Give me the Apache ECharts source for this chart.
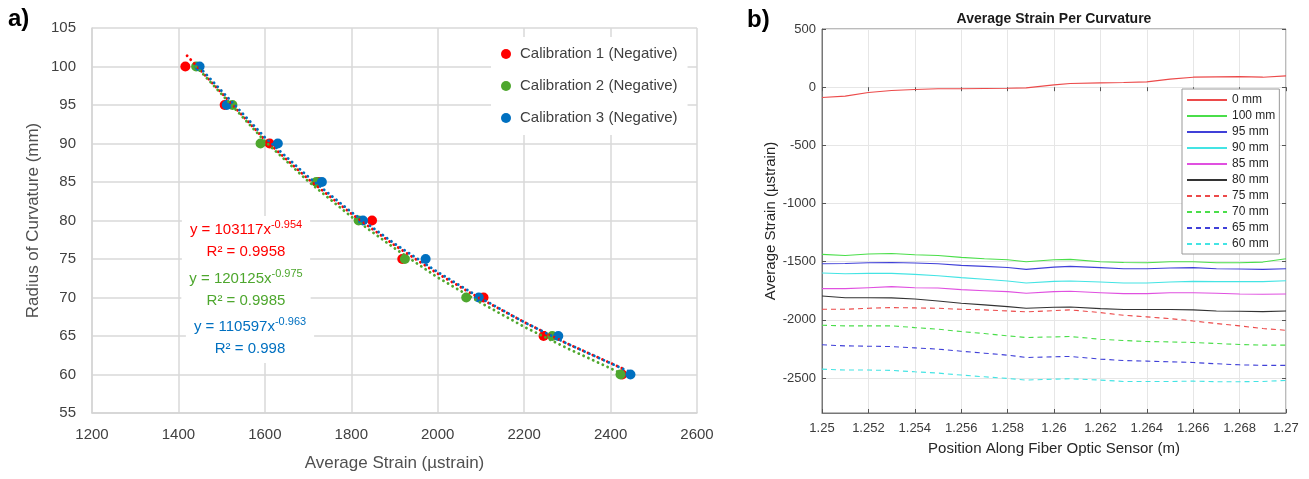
<!DOCTYPE html>
<html>
<head>
<meta charset="utf-8">
<script src="https://cdn.jsdelivr.net/npm/echarts@6/dist/echarts.min.js"></script>
<style>
  html, body { margin: 0; padding: 0; background: #fff; }
  #chart { width: 1309px; height: 479px; }
</style>
</head>
<body>
<div id="chart"></div>
<script>
// ---- panel a: radius of curvature vs average strain ----
const radius = [100, 95, 90, 85, 80, 75, 70, 65, 60];
const cal1Strain = [1416, 1507, 1611, 1724, 1848, 1918, 2106, 2245, 2427];
const cal2Strain = [1441, 1525, 1590, 1719, 1817, 1924, 2066, 2265, 2423];
const cal3Strain = [1449, 1512, 1630, 1732, 1827, 1972, 2095, 2279, 2446];
const calNames = ['Calibration 1 (Negative)', 'Calibration 2 (Negative)', 'Calibration 3 (Negative)'];

// power trendlines
const trend1Strain = [1420, 1600, 1700, 1800, 1900, 2000, 2100, 2200, 2300, 2427];
const trend1Radius = [101.4, 90.5, 85.4, 80.9, 76.8, 73.1, 69.8, 66.8, 64.0, 60.8];
const trend2Strain = [1441, 1600, 1700, 1800, 1900, 2000, 2100, 2200, 2300, 2423];
const trend2Radius = [100.0, 90.3, 85.1, 80.5, 76.4, 72.6, 69.3, 66.2, 63.4, 60.2];
const trend3Strain = [1449, 1600, 1700, 1800, 1900, 2000, 2100, 2200, 2300, 2446];
const trend3Radius = [99.9, 90.8, 85.7, 81.1, 77.0, 73.3, 69.9, 66.8, 64.0, 60.3];
const fitCoef = ['103117', '120125', '110597'];
const fitExp = ['-0.954', '-0.975', '-0.963'];
const fitR2 = ['0.9958', '0.9985', '0.998'];

// ---- panel b: average strain along the fiber ----
const position = [1.25, 1.251, 1.252, 1.253, 1.254, 1.255, 1.256, 1.257, 1.258, 1.2588, 1.26,
  1.2607, 1.262, 1.263, 1.264, 1.265, 1.266, 1.267, 1.268, 1.269, 1.27];
const strain0 = [-89, -77, -46, -29, -20, -14, -14, -11, -9, -6, 20, 31, 37, 40, 46, 69, 86, 89, 91, 86, 97];
const strain100 = [-1437, -1446, -1434, -1429, -1440, -1446, -1463, -1474, -1483, -1500, -1483, -1480, -1500, -1506, -1509, -1500, -1500, -1509, -1509, -1503, -1474];
const strain95 = [-1517, -1515, -1509, -1506, -1511, -1517, -1531, -1540, -1549, -1566, -1546, -1540, -1551, -1560, -1560, -1554, -1551, -1560, -1563, -1566, -1560];
const strain90 = [-1597, -1603, -1600, -1600, -1609, -1620, -1637, -1651, -1666, -1683, -1669, -1666, -1674, -1683, -1683, -1674, -1669, -1671, -1671, -1671, -1663];
const strain85 = [-1731, -1731, -1723, -1714, -1723, -1726, -1740, -1749, -1757, -1771, -1757, -1754, -1766, -1774, -1774, -1766, -1766, -1771, -1777, -1780, -1777];
const strain80 = [-1794, -1809, -1809, -1811, -1820, -1837, -1857, -1871, -1886, -1900, -1891, -1889, -1903, -1911, -1911, -1911, -1914, -1923, -1926, -1929, -1923];
const strain75 = [-1909, -1909, -1900, -1894, -1897, -1900, -1909, -1914, -1923, -1931, -1920, -1914, -1937, -1960, -1974, -1989, -2009, -2031, -2051, -2074, -2089];
const strain70 = [-2046, -2051, -2051, -2051, -2066, -2080, -2100, -2117, -2137, -2151, -2146, -2143, -2166, -2177, -2186, -2189, -2194, -2203, -2211, -2217, -2217];
const strain65 = [-2214, -2223, -2226, -2229, -2240, -2251, -2269, -2286, -2303, -2323, -2317, -2314, -2337, -2349, -2354, -2360, -2366, -2377, -2386, -2391, -2391];
const strain60 = [-2423, -2431, -2431, -2434, -2446, -2457, -2474, -2489, -2503, -2517, -2509, -2506, -2517, -2529, -2529, -2529, -2526, -2531, -2531, -2529, -2520];
const curvNames = ['0 mm', '100 mm', '95 mm', '90 mm', '85 mm', '80 mm', '75 mm', '70 mm', '65 mm', '60 mm'];
const strainTicks = [-2500, -2000, -1500, -1000, -500, 0, 500];

const FONT = "'Liberation Sans', Arial, sans-serif";
const calColors = ['#ff0000', '#4ea72e', '#0070c0'];
const curvColors = ['#ec4a4a', '#4ade4a', '#4040d8', '#44e4e4', '#e050e0', '#333333',
  '#ec4a4a', '#4ade4a', '#4040d8', '#44e4e4'];

const zip = (xs, ys) => xs.map((x, i) => [x, ys[i]]);

const chart = echarts.init(document.getElementById('chart'), null, { renderer: 'canvas' });

const calStrains = [cal1Strain, cal2Strain, cal3Strain];
const trendStrains = [trend1Strain, trend2Strain, trend3Strain];
const trendRadii = [trend1Radius, trend2Radius, trend3Radius];
const strainSeries = [strain0, strain100, strain95, strain90, strain85, strain80, strain75, strain70, strain65, strain60];

const series = [];
calStrains.forEach((xs, i) => {
  series.push({
    name: calNames[i],
    type: 'scatter',
    xAxisIndex: 0, yAxisIndex: 0,
    data: zip(xs, radius),
    symbol: 'circle',
    symbolSize: 10,
    z: 2,
    itemStyle: { color: calColors[i], opacity: 1 }
  });
});
trendStrains.forEach((xs, i) => {
  series.push({
    name: 'trend' + i,
    type: 'line',
    xAxisIndex: 0, yAxisIndex: 0,
    data: zip(xs, trendRadii[i]),
    symbol: 'none',
    z: 3,
    lineStyle: { color: calColors[i], width: 2.8, type: [0.1, 5.2], cap: 'round' },
    silent: true
  });
});
strainSeries.forEach((ys, i) => {
  series.push({
    name: curvNames[i],
    type: 'line',
    xAxisIndex: 1, yAxisIndex: 1,
    data: zip(position, ys),
    symbol: 'none',
    lineStyle: { color: curvColors[i], width: 1.1, type: i >= 6 ? [5, 4] : 'solid' },
    itemStyle: { color: curvColors[i] }
  });
});

const fitCenters = [[246, 241], [246, 290], [250, 338]];
const fitTexts = fitCoef.map((c, i) => ({
  type: 'text',
  x: fitCenters[i][0], y: fitCenters[i][1],
  z: 10,
  style: {
    text: '{m|y = ' + c + 'x}{s|' + fitExp[i] + '}\n{m|R² = ' + fitR2[i] + '}',
    align: 'center', verticalAlign: 'middle',
    backgroundColor: '#fff',
    padding: [3, 8],
    rich: {
      m: { fontSize: 15, fontFamily: FONT, fill: calColors[i], lineHeight: 22 },
      s: { fontSize: 11, fontFamily: FONT, fill: calColors[i], lineHeight: 12, verticalAlign: 'top' }
    }
  }
}));

chart.setOption({
  animation: false,
  backgroundColor: '#fff',
  textStyle: { fontFamily: FONT },
  grid: [
    { left: 92, top: 28, width: 605, height: 385 },
    { left: 822, top: 29, width: 464, height: 384, show: true, borderColor: '#777', borderWidth: 1, backgroundColor: 'transparent' }
  ],
  legend: [
    {
      data: calNames,
      orient: 'vertical',
      left: 491, top: 37,
      padding: [8, 10, 8, 10],
      backgroundColor: '#fff',
      icon: 'circle',
      itemWidth: 10, itemHeight: 10,
      itemGap: 14,
      textStyle: { fontSize: 15, color: '#404040', lineHeight: 18, fontFamily: FONT, padding: [0, 0, 0, 4] }
    },
    {
      data: curvNames,
      orient: 'vertical',
      left: 1182, top: 89,
      padding: [5, 4, 4, 4],
      backgroundColor: '#fff',
      borderColor: '#999',
      borderWidth: 1,
      itemWidth: 40, itemHeight: 10,
      itemGap: 4,
      itemStyle: { opacity: 0 },
      textStyle: { fontSize: 12, color: '#262626', lineHeight: 12, fontFamily: FONT }
    }
  ],
  xAxis: [
    {
      gridIndex: 0, type: 'value', min: 1200, max: 2600, interval: 200,
      name: 'Average Strain (µstrain)', nameLocation: 'middle', nameGap: 42,
      nameTextStyle: { fontSize: 17, color: '#505050', fontFamily: FONT },
      axisLine: { show: true, lineStyle: { color: '#d4d4d4', width: 1.5 } },
      axisTick: { show: false },
      axisLabel: { fontSize: 15, color: '#404040', margin: 14, fontFamily: FONT, formatter: v => String(v) },
      splitLine: { lineStyle: { color: '#d9d9d9', width: 1.5 } }
    },
    {
      gridIndex: 1, type: 'value', min: 1.25, max: 1.27, interval: 0.002,
      name: 'Position Along Fiber Optic Sensor (m)', nameLocation: 'middle', nameGap: 28,
      nameTextStyle: { fontSize: 15, color: '#262626', fontFamily: FONT },
      axisLine: { show: true, onZero: false, lineStyle: { color: '#777', width: 1 } },
      axisTick: { show: true, inside: true, length: 4, lineStyle: { color: '#555' } },
      axisLabel: { fontSize: 13, color: '#3a3a3a', margin: 9, fontFamily: FONT,
        formatter: v => String(parseFloat(v.toFixed(3))) },
      splitLine: { show: true, lineStyle: { color: '#e6e6e6', width: 1 } }
    },
    {
      gridIndex: 1, type: 'value', min: 1.25, max: 1.27, interval: 0.002, position: 'top',
      axisLine: { show: false },
      axisTick: { show: true, inside: true, length: 4, lineStyle: { color: '#555' } },
      axisLabel: { show: false },
      splitLine: { show: false }
    }
  ],
  yAxis: [
    {
      gridIndex: 0, type: 'value', min: 55, max: 105, interval: 5,
      name: 'Radius of Curvature (mm)', nameLocation: 'middle', nameGap: 50,
      nameTextStyle: { fontSize: 17, color: '#505050', fontFamily: FONT },
      axisLine: { show: true, lineStyle: { color: '#d4d4d4', width: 1.5 } },
      axisTick: { show: false },
      axisLabel: { fontSize: 15, color: '#404040', margin: 16, fontFamily: FONT },
      splitLine: { lineStyle: { color: '#d9d9d9', width: 1.5 } }
    },
    {
      gridIndex: 1, type: 'value', min: -2800, max: 500,
      name: 'Average Strain (µstrain)', nameLocation: 'middle', nameGap: 43,
      nameTextStyle: { fontSize: 15, color: '#262626', fontFamily: FONT },
      axisLine: { show: true, onZero: false, lineStyle: { color: '#777', width: 1 } },
      axisTick: { show: true, inside: true, length: 4, customValues: strainTicks, lineStyle: { color: '#555' } },
      axisLabel: { fontSize: 13, color: '#3a3a3a', margin: 6, customValues: strainTicks, fontFamily: FONT, formatter: v => String(v) },
      splitLine: { show: true, lineStyle: { color: '#e6e6e6', width: 1 } }
    },
    {
      gridIndex: 1, type: 'value', min: -2800, max: 500, position: 'right',
      axisLine: { show: false },
      axisTick: { show: true, inside: true, length: 4, customValues: strainTicks, lineStyle: { color: '#555' } },
      axisLabel: { show: false, customValues: strainTicks },
      splitLine: { show: false }
    }
  ],
  graphic: [
    { type: 'text', x: 8, y: 19, z: 10, style: { text: 'a)', fontSize: 24, fontWeight: 'bold', fontFamily: FONT, fill: '#000', verticalAlign: 'middle' } },
    { type: 'text', x: 747, y: 20, z: 10, style: { text: 'b)', fontSize: 24, fontWeight: 'bold', fontFamily: FONT, fill: '#000', verticalAlign: 'middle' } },
    { type: 'text', x: 1054, y: 19, z: 10, style: { text: 'Average Strain Per Curvature', fontSize: 14, fontWeight: 'bold', fontFamily: FONT, fill: '#1a1a1a', align: 'center', verticalAlign: 'middle' } },
    ...fitTexts
  ],
  series: series
});
</script>
</body>
</html>
